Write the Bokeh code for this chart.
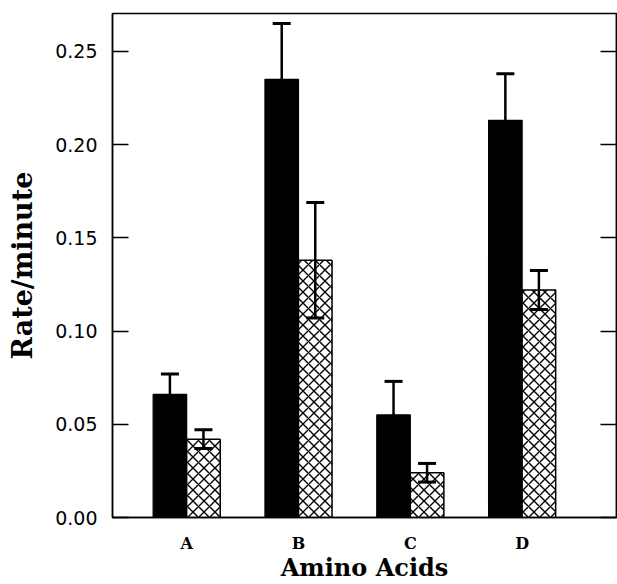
from bokeh.plotting import figure
from bokeh.models import (ColumnDataSource, Range1d, FixedTicker, LinearAxis,
                          Whisker, TeeHead, NumeralTickFormatter)
from bokeh.transform import dodge
from bokeh.embed import file_html
from bokeh.resources import INLINE

# ---- data ----
categories = ["A", "B", "C", "D"]
series1_values = [0.066, 0.235, 0.055, 0.213]   # solid black bars
series1_errors = [0.011, 0.030, 0.018, 0.025]
series2_values = [0.042, 0.138, 0.024, 0.122]   # cross-hatched bars
series2_errors = [0.005, 0.031, 0.005, 0.0105]
y_ticks = [0.00, 0.05, 0.10, 0.15, 0.20, 0.25]
x_title = "Amino Acids"
y_title = "Rate/minute"

positions = list(range(1, len(categories) + 1))

src = ColumnDataSource(dict(
    x=positions,
    v1=series1_values,
    v2=series2_values,
    lo1=[v - e for v, e in zip(series1_values, series1_errors)],
    hi1=[v + e for v, e in zip(series1_values, series1_errors)],
    lo2=[v - e for v, e in zip(series2_values, series2_errors)],
    hi2=[v + e for v, e in zip(series2_values, series2_errors)],
))

p = figure(width=617, height=584, output_backend="svg", toolbar_location=None,
           x_range=Range1d(0.3366, 4.844), y_range=Range1d(0, 0.2703),
           min_border_left=112, min_border_right=1, min_border_top=13,
           min_border_bottom=67)

p.background_fill_color = "white"
p.border_fill_color = "white"
p.outline_line_color = "black"
p.outline_line_width = 1.5
p.xgrid.visible = False
p.ygrid.visible = False

bw = 0.30
p.vbar(x=dodge("x", -0.15), top="v1", width=bw, bottom=0, source=src,
       fill_color="black", line_color="black", line_width=1.2)
p.vbar(x=dodge("x", 0.15), top="v2", width=bw, bottom=0, source=src,
       fill_color="white", line_color="black", line_width=1.5,
       hatch_pattern="diagonal_cross", hatch_color="black",
       hatch_scale=11, hatch_weight=1.4)

for lo, hi, off in (("lo1", "hi1", -0.15), ("lo2", "hi2", 0.15)):
    w = Whisker(source=src, base=dodge("x", off), lower=lo, upper=hi,
                dimension="height", line_color="black", line_width=2.5,
                level="annotation",
                upper_head=TeeHead(size=18, line_width=3, line_color="black"),
                lower_head=TeeHead(size=18, line_width=3, line_color="black"))
    p.add_layout(w)

# y axis (left)
ya = p.yaxis[0]
ya.ticker = FixedTicker(ticks=y_ticks)
ya.formatter = NumeralTickFormatter(format="0.00")
ya.major_tick_in = 16
ya.major_tick_out = 0
ya.minor_tick_in = 0
ya.minor_tick_out = 0
ya.major_tick_line_width = 1.5
ya.major_tick_line_color = "black"
ya.axis_line_color = "black"
ya.axis_line_width = 1.5
ya.major_label_text_font = "DejaVu Sans"
ya.major_label_text_font_size = "19px"
ya.major_label_text_color = "black"
ya.major_label_standoff = 15
ya.axis_label = y_title
ya.axis_label_text_font = "DejaVu Serif"
ya.axis_label_text_font_style = "bold"
ya.axis_label_text_font_size = "27px"
ya.axis_label_text_color = "black"
ya.axis_label_standoff = 14

# right axis with inward ticks only (labels hidden)
ra = LinearAxis(ticker=FixedTicker(ticks=y_ticks))
ra.major_tick_in = 16
ra.major_tick_out = 0
ra.minor_tick_in = 0
ra.minor_tick_out = 0
ra.major_tick_line_width = 1.5
ra.major_tick_line_color = "black"
ra.axis_line_color = "black"
ra.axis_line_width = 1.5
ra.major_label_text_font_size = "1px"
ra.major_label_text_color = None
ra.major_label_standoff = 0
p.add_layout(ra, "right")

# x axis
xa = p.xaxis[0]
xa.ticker = FixedTicker(ticks=positions)
xa.major_label_overrides = {pos: c for pos, c in zip(positions, categories)}
xa.major_tick_in = 0
xa.major_tick_out = 0
xa.minor_tick_in = 0
xa.minor_tick_out = 0
xa.axis_line_color = "black"
xa.axis_line_width = 1.5
xa.major_label_text_font = "DejaVu Serif"
xa.major_label_text_font_style = "bold"
xa.major_label_text_font_size = "16px"
xa.major_label_text_line_height = 1.0
xa.major_label_text_color = "black"
xa.major_label_standoff = 16
xa.axis_label = x_title
xa.axis_label_text_font = "DejaVu Serif"
xa.axis_label_text_font_style = "bold"
xa.axis_label_text_font_size = "24px"
xa.axis_label_text_line_height = 1.0
xa.axis_label_text_color = "black"
xa.axis_label_standoff = -3

open("out.html", "w").write(file_html(p, INLINE))
